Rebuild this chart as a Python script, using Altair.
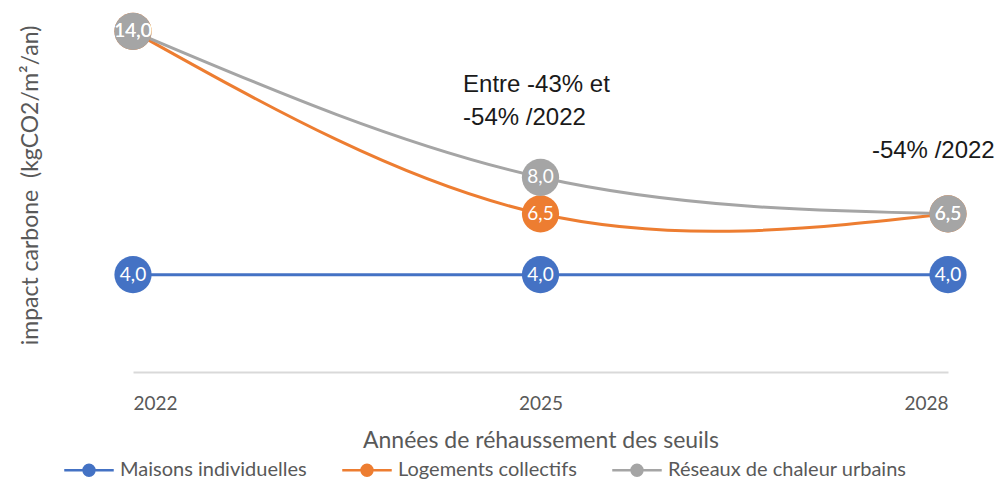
import altair as alt
import pandas as pd

years = [2022, 2025, 2028]
series_names = ["Maisons individuelles", "Logements collectifs", "Réseaux de chaleur urbains"]
maisons = [4.0, 4.0, 4.0]
logements = [14.0, 6.5, 6.5]
reseaux = [14.0, 8.0, 6.5]
colors = ["#4472C4", "#ED7D31", "#A5A5A5"]

ann_text = ["Entre -43% et", "-54% /2022", "-54% /2022"]
ann_x = [2024.43, 2024.43, 2027.44]
ann_y = [11.8, 10.45, 9.1]

rows = []
for name, vals in zip(series_names, [maisons, logements, reseaux]):
    for yr, v in zip(years, vals):
        rows.append({"year": yr, "value": v, "series": name,
                     "order": series_names.index(name),
                     "label": f"{v:.1f}".replace(".", ",")})
df = pd.DataFrame(rows)
ann = pd.DataFrame({"text": ann_text, "x": ann_x, "y": ann_y})

FONT = "Lato"
GREY = "#595959"

xenc = alt.X("year:Q",
             scale=alt.Scale(domain=[2022, 2028], nice=False, zero=False),
             axis=alt.Axis(values=years, format="d", title="Années de réhaussement des seuils",
                           grid=False, ticks=False, tickSize=0, domainColor="#d9d9d9", domainWidth=2,
                           labelFont=FONT, labelFontSize=19, labelColor=GREY, labelPadding=22,
                           titleFont=FONT, titleFontSize=23, titleColor=GREY,
                           titleFontWeight="normal", titlePadding=16))
yenc = alt.Y("value:Q",
             scale=alt.Scale(domain=[0, 15], nice=False),
             axis=alt.Axis(title="impact carbone\u00a0 (kgCO2/m²/an)", labels=False, ticks=False,
                           domain=False, grid=False, titleFont=FONT, titleFontSize=23,
                           titleColor=GREY, titleFontWeight="normal", titlePadding=91,
                           titleY=178))

sym = "M-1,0L1,0M0.22,0A0.22,0.22,0,1,1,-0.22,0A0.22,0.22,0,1,1,0.22,0Z"
color = alt.Color("series:N",
                  scale=alt.Scale(domain=series_names, range=colors),
                  legend=alt.Legend(title=None, orient="none", direction="horizontal",
                                    legendX=-70, legendY=437, symbolType=sym, symbolSize=2450,
                                    symbolStrokeWidth=2.5, labelFont=FONT, labelFontSize=20,
                                    labelColor=GREY, labelOffset=5, columnPadding=30,
                                    labelLimit=400))

base = alt.Chart(df)
lines = base.mark_line(interpolate="natural", strokeWidth=3).encode(
    x=xenc, y=yenc, color=color, order=alt.Order("year:Q"),
    detail="series:N")
points = base.mark_circle(size=1385, opacity=1).encode(
    x=xenc, y=yenc, color=color, order=alt.Order("order:Q"))
texts = base.mark_text(color="white", font=FONT, fontSize=19, baseline="middle").encode(
    x=xenc, y=yenc, text="label:N", order=alt.Order("order:Q"))
annots = alt.Chart(ann).mark_text(align="left", baseline="middle", font="Liberation Sans",
                                  fontSize=24, color="#1a1a1a").encode(
    x=alt.X("x:Q"), y=alt.Y("y:Q"), text="text:N")

chart = alt.layer(lines, points, texts, annots).properties(
    width=815, height=365,
    autosize=alt.AutoSizeParams(type="none"),
    padding={"left": 133, "top": 7, "right": 57, "bottom": 113},
).configure_view(stroke=None)

chart.save("out.html", embed_options={"renderer": "svg", "actions": False})
